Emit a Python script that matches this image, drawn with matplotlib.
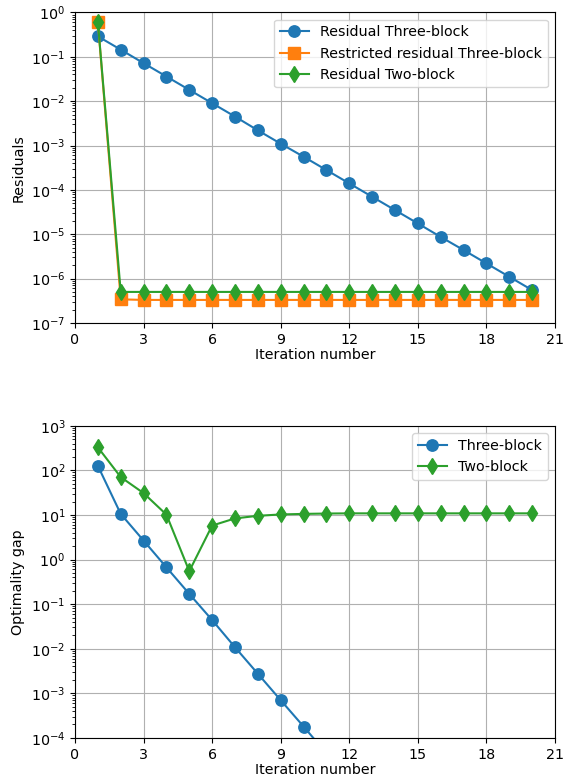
import matplotlib
matplotlib.use("Agg")
import matplotlib.pyplot as plt
from matplotlib.ticker import LogLocator

plt.rcParams["font.size"] = 10.3

iters = list(range(1, 21))

# top panel: residuals
res_three = [0.29, 0.145, 0.072, 0.036, 0.018, 0.009, 0.0045, 0.0022, 0.0011, 5.6e-4,
             2.8e-4, 1.4e-4, 7.0e-5, 3.5e-5, 1.75e-5, 8.7e-6, 4.4e-6, 2.2e-6, 1.1e-6, 5.5e-7]
res_restricted = [0.6, 3.4e-7, 3.3e-7, 3.3e-7, 3.3e-7, 3.3e-7, 3.3e-7, 3.3e-7, 3.3e-7, 3.3e-7,
                  3.3e-7, 3.3e-7, 3.3e-7, 3.3e-7, 3.3e-7, 3.3e-7, 3.3e-7, 3.3e-7, 3.3e-7, 3.3e-7]
res_two = [0.62, 5.0e-7, 5.0e-7, 5.0e-7, 5.0e-7, 5.0e-7, 5.0e-7, 5.0e-7, 5.0e-7, 5.0e-7,
           5.0e-7, 5.0e-7, 5.0e-7, 5.0e-7, 5.0e-7, 5.0e-7, 5.0e-7, 5.0e-7, 5.0e-7, 5.0e-7]

# bottom panel: optimality gap
gap_three = [127, 10.6, 2.67, 0.67, 0.17, 0.044, 0.0108, 0.00275, 7.0e-4, 1.8e-4,
             4.5e-5, 1.1e-5, 2.8e-6, 7.0e-7, 1.7e-7, 4.3e-8, 1.1e-8, 2.7e-9, 6.7e-10, 1.7e-10]
gap_two = [330, 71, 31, 10.2, 0.55, 5.8, 8.4, 9.6, 10.3, 10.6,
           10.8, 10.9, 10.9, 10.9, 10.9, 10.9, 10.9, 10.9, 10.9, 10.9]

xticks = [0, 3, 6, 9, 12, 15, 18, 21]

fig = plt.figure(figsize=(5.7, 7.8), dpi=100)
ax1 = fig.add_axes([0.1316, 0.586, 0.842, 0.398])
ax2 = fig.add_axes([0.1316, 0.054, 0.842, 0.400])

ms = 8.2
ax1.semilogy(iters, res_three, "o-", color="#1f77b4", ms=ms, label="Residual Three-block")
ax1.semilogy(iters, res_restricted, "s-", color="#ff7f0e", ms=ms, label="Restricted residual Three-block")
ax1.semilogy(iters, res_two, "d-", color="#2ca02c", ms=ms, label="Residual Two-block")
ax1.set_ylim(1e-7, 1e0)
ax1.set_ylabel("Residuals")

ax2.semilogy(iters, gap_three, "o-", color="#1f77b4", ms=ms, label="Three-block")
ax2.semilogy(iters, gap_two, "d-", color="#2ca02c", ms=ms, label="Two-block")
ax2.set_ylim(1e-4, 1e3)
ax2.set_ylabel("Optimality gap")

for ax in (ax1, ax2):
    ax.set_xlim(0, 21)
    ax.set_xticks(xticks)
    ax.set_xlabel("Iteration number", labelpad=1)
    ax.yaxis.set_major_locator(LogLocator(base=10, numticks=20))
    ax.yaxis.set_minor_locator(LogLocator(base=10, subs=range(2, 10), numticks=20))
    ax.grid(True, color="#b0b0b0", linewidth=0.8)
    ax.legend(loc="upper right")

fig.savefig("out.png", dpi=100)
